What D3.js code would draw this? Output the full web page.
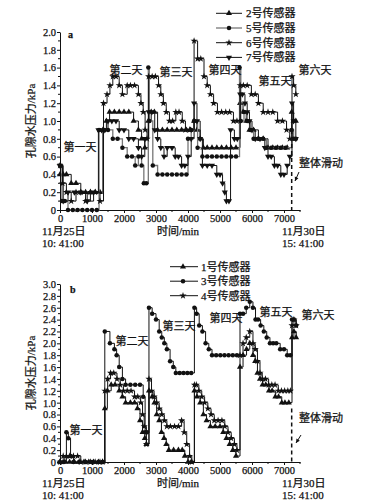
<!DOCTYPE html>
<html>
<head>
<meta charset="utf-8">
<script src="https://cdn.jsdelivr.net/npm/d3@7"></script>
<style>
  body { margin: 0; background: #fff; }
  svg text { font-family: "Liberation Serif", "Noto Sans CJK SC", serif; fill: #111; stroke: #111; stroke-width: 0.25px; }
</style>
</head>
<body>
<svg id="chart" width="367" height="502"></svg>
<script>
// ---- data (time in min, pore water pressure in kPa) ----
const xTicks = [0, 1000, 2000, 3000, 4000, 5000, 6000, 7000];
const yTicksA = [0, 0.2, 0.4, 0.6, 0.8, 1.0, 1.2, 1.4, 1.6, 1.8, 2.0];
const yTicksB = [0, 0.2, 0.4, 0.6, 0.8, 1.0, 1.2, 1.4, 1.6, 1.8, 2.0, 2.2, 2.4, 2.6, 2.8, 3.0];
const dayNames = ['第一天', '第二天', '第三天', '第四天', '第五天', '第六天'];
const namesA = ['2号传感器', '5号传感器', '6号传感器', '7号传感器'];
const namesB = ['1号传感器', '3号传感器', '4号传感器'];
const startLabel = ['11月25日', '10: 41:00'];
const endLabel = ['11月30日', '15: 41:00'];
const slideTime = 7240;

// panel a
const a2 = [[0,0.4],[100,0.4],[200,0.4],[350,0.3],[500,0.3],[650,0.2],[800,0.2],[950,0.2],[1100,0.2],[1250,0.2],
  [1340,0.9],[1450,1.0],[1550,1.1],[1700,1.1],[1850,1.1],[2000,1.1],[2150,1.1],[2300,1.0],[2450,0.9],[2550,0.8],[2650,0.7],
  [2760,1.0],[2850,1.1],[2950,1.1],[3050,0.9],[3200,0.9],[3350,0.9],[3500,0.9],[3650,0.9],[3800,0.9],[3950,0.9],[4080,0.9],
  [4190,1.0],[4280,0.9],[4380,0.8],[4480,0.7],[4600,0.7],[4750,0.7],[4900,0.7],[5050,0.7],[5200,0.7],[5350,0.7],[5500,0.7],
  [5625,1.2],[5720,1.1],[5820,1.0],[5920,0.9],[6050,0.9],[6200,0.8],[6350,0.8],[6500,0.7],[6650,0.7],[6800,0.7],[6950,0.7],[7100,0.7],
  [7240,1.1],[7300,1.0],[7370,1.0]];
const a5 = [[0,0.5],[60,0.1],[150,0.1],[250,0],[400,0],[550,0],[700,0],[850,0],[1000,0],[1150,0],
  [1220,0.9],[1380,0.9],[1500,0.9],[1650,0.8],[1800,0.8],[1950,0.7],[2100,0.6],[2250,0.6],[2350,0.5],[2450,0.6],[2550,0.5],[2620,0.3],[2700,0.3],
  [2760,1.6],[2790,1.0],[2900,0.5],[3050,0.4],[3200,0.4],[3350,0.4],[3500,0.4],[3650,0.4],[3800,0.4],[3950,0.4],[4000,0.8],[4100,0.9],
  [4190,1.0],[4300,0.7],[4450,0.6],[4600,0.6],[4750,0.6],[4900,0.6],[5050,0.6],[5200,0.6],[5350,0.6],[5500,0.6],
  [5610,1.6],[5650,1.0],[5750,1.1],[5850,1.0],[5950,0.9],[6050,0.8],[6200,0.8],[6350,0.8],[6450,0.7],[6600,0.7],[6750,0.7],[6900,0.7],[7050,0.7],
  [7240,0.9],[7300,0.8],[7370,0.8]];
const a6 = [[0,0.5],[80,0.3],[200,0.2],[350,0.1],[500,0.2],[650,0.2],[800,0.1],[950,0.2],[1100,0.2],[1250,0.1],
  [1360,1.2],[1470,1.3],[1560,1.4],[1650,1.5],[1750,1.5],[1850,1.4],[1950,1.3],[2100,1.4],[2200,1.4],[2330,1.4],[2450,1.3],[2530,1.2],[2600,1.1],[2660,0.9],[2720,0.8],
  [2770,1.5],[2880,1.5],[2980,1.5],[3080,1.4],[3150,1.3],[3230,1.2],[3320,1.1],[3420,1.0],[3520,1.0],[3620,1.1],[3720,1.1],[3820,1.0],[3920,0.9],[4050,0.9],
  [4190,1.9],[4300,1.7],[4400,1.7],[4500,1.5],[4600,1.4],[4700,1.3],[4800,1.2],[4920,1.1],[5050,1.1],[5180,1.1],[5300,1.1],[5420,1.0],[5530,1.0],
  [5630,1.4],[5730,1.4],[5850,1.4],[5980,1.3],[6100,1.3],[6200,1.2],[6350,1.1],[6500,1.1],[6650,1.1],[6800,1.0],[6950,1.0],[7080,0.9],[7180,0.8],
  [7250,1.5],[7300,1.4],[7370,1.3]];
const a7 = [[0,0.5],[100,0.1],[250,0.2],[450,0.2],[650,0.2],[850,0.1],[1050,0.2],
  [1200,0.9],[1300,0.9],[1400,0.9],[1500,1.0],[1620,1.0],[1750,1.0],[1850,0.9],[2000,0.9],[2150,0.8],[2300,0.8],[2450,0.7],[2550,0.6],[2650,0.8],
  [2770,1.1],[2870,1.1],[2960,0.9],[3050,0.8],[3150,0.7],[3250,0.6],[3350,0.7],[3500,0.7],[3600,0.6],[3700,0.6],[3800,0.5],[3900,0.5],[4000,0.6],[4100,0.8],
  [4190,1.2],[4280,1.0],[4380,0.8],[4450,0.5],[4600,0.5],[4750,0.5],[4900,0.4],[5000,0.4],[5080,0.3],[5150,0.2],[5200,0.1],[5280,0.1],[5330,0.9],[5450,0.8],[5540,0.8],
  [5630,1.3],[5700,1.3],[5780,1.2],[5850,1.1],[5920,1.0],[6000,0.9],[6100,0.8],[6250,0.8],[6400,0.7],[6500,0.6],[6600,0.6],[6700,0.5],[6800,0.5],[6900,0.4],[7000,0.4],[7100,0.5],[7180,0.6],
  [7250,1.2],[7300,1.0],[7370,0.8]];

// panel b
const b1 = [[0,0],[150,0],[300,0],[450,0],[600,0],[750,0],[900,0],[1050,0],[1200,0],[1330,0],
  [1400,0.9],[1480,1.2],[1600,1.3],[1720,1.3],[1850,1.2],[1950,1.1],[2050,1.0],[2200,1.0],[2330,1.0],[2420,0.9],[2500,0.7],[2580,0.5],[2650,0.4],[2700,0.3],
  [2780,1.2],[2880,1.1],[2950,1.0],[3020,0.8],[3100,0.7],[3170,0.5],[3250,0.4],[3320,0.3],[3400,0.2],[3550,0.2],[3700,0.2],[3820,0.2],[3900,0.1],[4000,0],[4100,0],
  [4200,1.2],[4280,1.1],[4380,1.0],[4480,0.8],[4580,0.7],[4700,0.6],[4850,0.6],[5000,0.6],[5100,0.5],[5200,0.4],[5300,0.3],[5400,0.2],[5500,0.1],
  [5625,1.6],[5720,1.8],[5830,1.9],[5930,2.0],[6030,1.8],[6100,1.7],[6170,1.5],[6250,1.4],[6330,1.3],[6430,1.3],[6530,1.2],[6630,1.2],[6730,1.1],[6830,1.1],[6930,1.0],[7030,1.0],[7150,1.0],
  [7250,2.1],[7310,2.2],[7380,2.1]];
const b3 = [[0,0],[120,0],[200,0.5],[260,0.4],[330,0.1],[420,0],[600,0],[800,0],[1000,0],[1200,0],[1330,0],
  [1400,2.2],[1560,2.0],[1700,1.9],[1770,1.8],[1850,1.6],[1950,1.4],[2050,1.3],[2200,1.3],[2350,1.3],[2500,1.3],[2600,1.1],[2660,0.5],[2720,0.5],
  [2780,2.6],[2880,2.5],[3000,2.4],[3100,2.2],[3180,2.1],[3260,2.0],[3340,1.9],[3440,1.7],[3540,1.6],[3620,1.5],[3740,1.5],[3860,1.5],[3980,1.5],[4100,1.5],
  [4200,2.6],[4270,2.5],[4350,2.3],[4450,2.2],[4550,2.0],[4650,1.9],[4750,1.8],[4880,1.8],[5010,1.8],[5140,1.8],[5270,1.8],[5400,1.8],[5530,1.8],
  [5625,2.5],[5720,2.5],[5820,2.6],[5930,2.7],[6030,2.6],[6110,2.4],[6190,2.4],[6270,2.3],[6370,2.2],[6460,2.1],[6560,2.0],[6660,2.0],[6760,2.0],[6880,1.9],[7000,1.9],[7100,1.8],[7200,1.8],
  [7250,2.4],[7310,2.4],[7380,2.3]];
const b4 = [[0,0],[100,0.1],[200,0.1],[300,0.1],[420,0.1],[550,0.1],[650,0],[800,0],[950,0],[1100,0],[1250,0],[1330,0],
  [1400,1.2],[1490,1.4],[1580,1.5],[1680,1.5],[1780,1.4],[1880,1.3],[1980,1.2],[2100,1.2],[2220,1.2],[2330,1.1],[2430,1.1],[2520,1.0],[2580,0.8],[2630,0.6],[2700,0.3],
  [2780,1.4],[2860,1.2],[2940,1.1],[3020,1.0],[3100,0.9],[3180,0.8],[3260,0.7],[3340,0.6],[3450,0.6],[3580,0.6],[3700,0.6],[3800,0.7],[3880,0.5],[3960,0.3],[4050,0.1],[4120,0],
  [4200,1.3],[4260,1.3],[4340,1.2],[4430,1.1],[4520,1.0],[4620,0.9],[4720,0.8],[4820,0.7],[4940,0.7],[5060,0.7],[5150,0.6],[5250,0.5],[5350,0.4],[5450,0.3],[5530,0.2],
  [5625,1.8],[5720,2.0],[5820,2.1],[5930,2.2],[6030,2.0],[6100,1.9],[6170,1.7],[6250,1.5],[6320,1.4],[6420,1.4],[6520,1.3],[6620,1.3],[6720,1.3],[6820,1.2],[6920,1.2],[7020,1.2],[7120,1.2],[7200,1.2],
  [7250,2.3],[7310,2.4],[7380,2.3]];

// ---- drawing ----
const svg = d3.select('#chart');
const x = d3.scaleLinear().domain([0, 7500]).range([60, 300]);

const triUp = d3.symbol(d3.symbolTriangle, 16)();
const dot = d3.symbol(d3.symbolCircle, 16)();
const star = d3.symbol(d3.symbolStar, 16)();

function drawPanel(cfg) {
  const g = svg.append('g');
  const y = d3.scaleLinear().domain([0, cfg.yMax]).range([cfg.bottom, cfg.top]);

  // minor ticks
  const minorY = d3.range(0.1, cfg.yMax, 0.2);
  g.selectAll('line.my').data(minorY).join('line')
    .attr('x1', 58).attr('x2', 60).attr('y1', d => y(d)).attr('y2', d => y(d))
    .attr('stroke', '#111');
  g.selectAll('line.mx').data(d3.range(500, 7600, 1000)).join('line')
    .attr('x1', d => x(d)).attr('x2', d => x(d)).attr('y1', cfg.bottom).attr('y2', cfg.bottom + 2)
    .attr('stroke', '#111');

  const yAxis = g.append('g').attr('transform', 'translate(60,0)')
    .call(d3.axisLeft(y).tickValues(cfg.yTicks).tickSize(3).tickSizeOuter(0)
      .tickFormat(d => d === 0 ? '0' : d.toFixed(1)));
  const xAxis = g.append('g').attr('transform', `translate(0,${cfg.bottom})`)
    .call(d3.axisBottom(x).tickValues(xTicks).tickSize(3).tickSizeOuter(0).tickFormat(d3.format('d')));
  [yAxis, xAxis].forEach(a => {
    a.selectAll('path,line').attr('stroke', '#111');
    a.selectAll('text').style('font-size', '10.5px').attr('fill', '#111')
      .style('font-family', '"Liberation Serif", serif');
  });
  yAxis.selectAll('text').attr('x', -4);
  xAxis.selectAll('text').attr('y', 5);

  // series
  cfg.series.forEach(s => {
    g.append('path').datum(s.values)
      .attr('d', d3.line().x(d => x(d[0])).y(d => y(d[1])).curve(d3.curveStepAfter))
      .attr('fill', 'none').attr('stroke', s.color).attr('stroke-width', s.width || 1);
    g.selectAll(null).data(s.values).join('path')
      .attr('transform', d => `translate(${x(d[0])},${y(d[1])})` + (s.flip ? ' rotate(180)' : ''))
      .attr('d', s.shape).attr('fill', '#111');
  });

  // legend
  cfg.series.forEach((s, i) => {
    const ly = cfg.legend.y0 + i * cfg.legend.dy;
    g.append('line').attr('x1', cfg.legend.x1).attr('x2', cfg.legend.x2).attr('y1', ly).attr('y2', ly)
      .attr('stroke', s.color).attr('stroke-width', s.width || 1);
    g.append('path').attr('d', s.shape)
      .attr('transform', `translate(${cfg.legend.mx},${ly})` + (s.flip ? ' rotate(180)' : ''))
      .attr('fill', '#111');
    g.append('text').attr('x', cfg.legend.tx).attr('y', ly + 4).style('font-size', '11px').text(s.name);
  });

  // panel letter
  g.append('text').attr('x', cfg.letter[0]).attr('y', cfg.letter[1]).style('font-size', '10px')
    .style('font-weight', 'bold').text(cfg.letterText);

  // day labels
  dayNames.forEach((d, i) => {
    g.append('text').attr('x', cfg.days[i][0]).attr('y', cfg.days[i][1] + 4)
      .attr('text-anchor', 'middle').style('font-size', '11px').text(d);
  });

  // axis titles
  g.append('text').attr('transform', `translate(31,${(cfg.top + cfg.bottom) / 2}) rotate(-90)`)
    .attr('text-anchor', 'middle').attr('dy', '0.35em').style('font-size', '11px').text('孔隙水压力/kPa');
  g.append('text').attr('x', 178).attr('y', cfg.bottom + 25).attr('text-anchor', 'middle')
    .style('font-size', '11px').text('时间/min');

  // date labels
  startLabel.forEach((t, i) => g.append('text').attr('x', 42).attr('y', cfg.bottom + 25 + i * 11.5)
    .style('font-size', '11px').text(t));
  endLabel.forEach((t, i) => g.append('text').attr('x', 282).attr('y', cfg.bottom + 25 + i * 11.5)
    .style('font-size', '11px').text(t));

  // slide marker
  g.append('line').attr('x1', x(slideTime)).attr('x2', x(slideTime))
    .attr('y1', y(cfg.slideTop)).attr('y2', cfg.bottom)
    .attr('stroke', '#111').attr('stroke-width', 1.5).attr('stroke-dasharray', '4,3');
  g.append('text').attr('x', 299).attr('y', cfg.slideText + 4).style('font-size', '11px').text('整体滑动');
  const ax = cfg.arrow;
  g.append('line').attr('x1', ax[0]).attr('y1', ax[1]).attr('x2', ax[2]).attr('y2', ax[3])
    .attr('stroke', '#111').attr('stroke-width', 1);
  const ang = Math.atan2(ax[3] - ax[1], ax[2] - ax[0]) * 180 / Math.PI;
  g.append('path').attr('d', 'M0,0L-4,-2L-4,2Z')
    .attr('transform', `translate(${ax[2]},${ax[3]}) rotate(${ang})`).attr('fill', '#111');
}

drawPanel({
  top: 32, bottom: 210, yMax: 2.0, yTicks: yTicksA,
  series: [
    { name: namesA[0], values: a2, shape: triUp, color: '#111' },
    { name: namesA[1], values: a5, shape: dot, color: '#777', width: 1.3 },
    { name: namesA[2], values: a6, shape: star, color: '#111' },
    { name: namesA[3], values: a7, shape: triUp, flip: true, color: '#111' }
  ],
  legend: { y0: 13.3, dy: 14.7, x1: 216, x2: 242, mx: 229, tx: 246 },
  letter: [68, 38], letterText: 'a',
  days: [[80, 147], [126, 70], [176, 72], [225, 70], [275, 81], [315, 70]],
  slideTop: 0.9, slideText: 163, arrow: [299, 172, 295, 181]
});

drawPanel({
  top: 284, bottom: 462, yMax: 3.0, yTicks: yTicksB,
  series: [
    { name: namesB[0], values: b1, shape: triUp, color: '#111' },
    { name: namesB[1], values: b3, shape: dot, color: '#111' },
    { name: namesB[2], values: b4, shape: star, color: '#111' }
  ],
  legend: { y0: 266.7, dy: 14.5, x1: 170, x2: 198, mx: 183, tx: 201 },
  letter: [70, 293], letterText: 'b',
  days: [[86, 430], [132, 341], [179, 326], [226, 318], [276, 312], [318, 315]],
  slideTop: 0.9, slideText: 418, arrow: [301, 435, 296, 443]
});
</script>
</body>
</html>
